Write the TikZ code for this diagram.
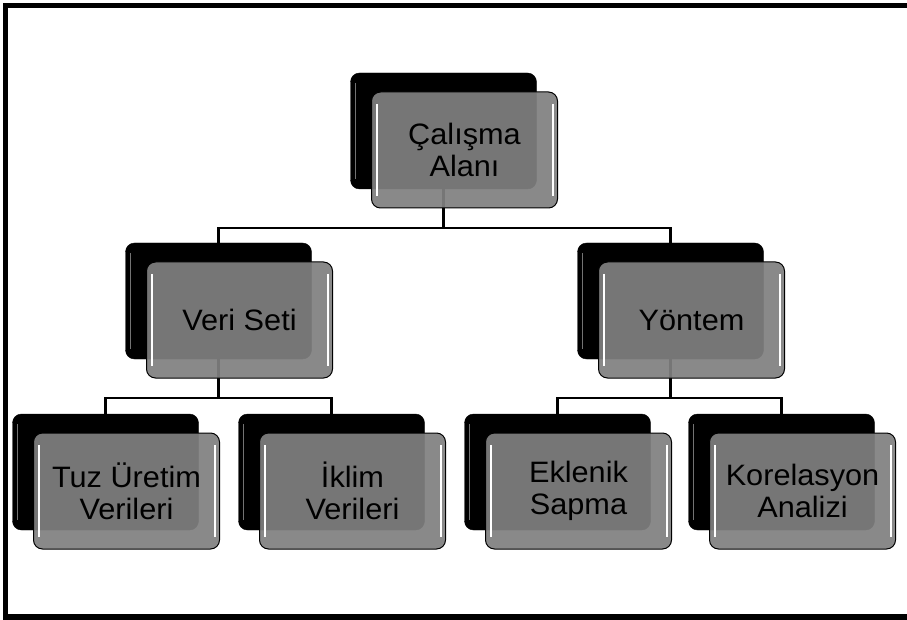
\documentclass[tikz,border=0pt]{standalone}
\usepackage{fontspec}
\newfontfamily\boxfont[FakeStretch=1.04]{Liberation Sans}
\usetikzlibrary{backgrounds}

\begin{document}
\begin{tikzpicture}[x=1pt,y=-1pt,
	backbox/.style={draw=black, fill=black, rounded corners=9pt, minimum width=186pt, minimum height=116pt, inner sep=0pt,
		path picture={\draw[black!55, line width=1.5pt] ([xshift=5pt,yshift=-10pt]path picture bounding box.north west) -- ([xshift=5pt,yshift=10pt]path picture bounding box.south west);}},
	frontbox/.style={draw=black, line width=1pt, fill=black!50, fill opacity=0.93, text opacity=1, rounded corners=9pt, minimum width=186pt, minimum height=116pt, inner sep=0pt, align=center, text=black, font=\boxfont\fontsize{29.5}{32}\selectfont,
		path picture={\draw[white, line width=2pt] ([xshift=5pt,yshift=-12pt]path picture bounding box.north west) -- ([xshift=5pt,yshift=12pt]path picture bounding box.south west);
			\draw[white, line width=2pt] ([xshift=-5pt,yshift=-12pt]path picture bounding box.north east) -- ([xshift=-5pt,yshift=12pt]path picture bounding box.south east);}},
	link/.style={line width=2.5pt}]
	\useasboundingbox (0,0) rectangle (907,620);
	\draw[line width=5.5pt] (907,5.5) -- (5.5,5.5) -- (5.5,617) -- (907,617);
	% top
	\node[backbox] (calB) at (443.5,131) {};
	\node[frontbox] (cal) at (464.5,150) {Çalışma\\Alanı};
	% second row
	\node[backbox] (veriB) at (218.5,301) {};
	\node[frontbox] (veri) at (239.5,320) {Veri Seti};
	\node[backbox] (yonB) at (670.5,301) {};
	\node[frontbox] (yon) at (691.5,320) {Yöntem};
	% third row
	\node[backbox] (tuzB) at (105.5,472) {};
	\node[frontbox] (tuz) at (126.5,491) {Tuz Üretim\\Verileri};
	\node[backbox] (iklimB) at (331.5,472) {};
	\node[frontbox] (iklim) at (352.5,491) {İklim\\Verileri};
	\node[backbox] (eklB) at (557.5,472) {};
	\node[frontbox] (ekl) at (578.5,491) {Eklenik\\Sapma};
	\node[backbox] (korB) at (781.5,472) {};
	\node[frontbox] (kor) at (802.5,491) {Korelasyon\\Analizi};
	% connectors
	\coordinate (calJ) at (443.5,228);
	\coordinate (veriJ) at (218.5,398);
	\coordinate (yonJ) at (670.5,398);
	\begin{scope}[on background layer]
		\draw[link] (calB.south) -- (calJ);
		\draw[link] (calJ) -| (veriB.north);
		\draw[link] (calJ) -| (yonB.north);
		\draw[link] (veriB.south) -- (veriJ);
		\draw[link] (veriJ) -| (tuzB.north);
		\draw[link] (veriJ) -| (iklimB.north);
		\draw[link] (yonB.south) -- (yonJ);
		\draw[link] (yonJ) -| (eklB.north);
		\draw[link] (yonJ) -| (korB.north);
	\end{scope}
\end{tikzpicture}
\end{document}
